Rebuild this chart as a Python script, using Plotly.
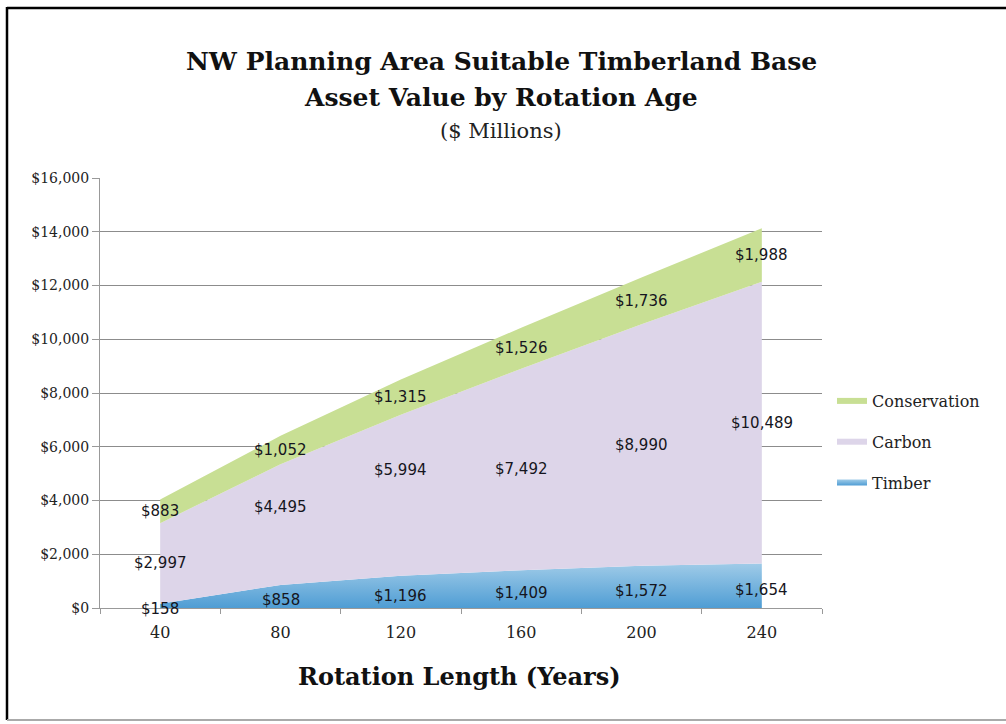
import plotly.graph_objects as go

rotation = ["40", "80", "120", "160", "200", "240"]
timber = [158, 858, 1196, 1409, 1572, 1654]
carbon = [2997, 4495, 5994, 7492, 8990, 10489]
conservation = [883, 1052, 1315, 1526, 1736, 1988]
y_ticks = [0, 2000, 4000, 6000, 8000, 10000, 12000, 14000, 16000]
y_tick_labels = ["$" + format(v, ",") for v in y_ticks]

# label vertical nudges (pixels), style only
carbon_shift = [0, 18, 25, 0, 0, 0]
timber_shift = [-3, -4, -4, -4, -4, -4]

L, R, T, B = 100, 822, 178, 608
W, H = 1006, 724


def px(x):
    return (x - L) / (R - L)


def py(y):
    return (B - y) / (B - T)


fig = go.Figure()
fig.add_trace(go.Scatter(x=rotation, y=timber, name="Timber", stackgroup="one",
                         mode="none", fillcolor="#6eb0de", legendrank=3, legendgroup="t",
                         fillgradient=dict(type="vertical",
                                           colorscale=[[0, "#4f9dd4"], [1, "#9fcbe8"]])))
fig.add_trace(go.Scatter(x=rotation, y=carbon, name="Carbon", stackgroup="one",
                         mode="none", fillcolor="#ddd5e9", legendrank=2, legendgroup="c"))
fig.add_trace(go.Scatter(x=rotation, y=conservation, name="Conservation", stackgroup="one",
                         mode="none", fillcolor="#c8df94", legendrank=1, legendgroup="k"))

label_font = dict(family="DejaVu Sans", size=15, color="#151520")
anns = []
for i, cat in enumerate(rotation):
    t = timber[i]
    c = carbon[i]
    k = conservation[i]
    anns.append(dict(x=i, y=t / 2, text="$" + format(t, ","), showarrow=False,
                     font=label_font, yshift=timber_shift[i]))
    anns.append(dict(x=i, y=t + c / 2, text="$" + format(c, ","), showarrow=False,
                     font=label_font, yshift=carbon_shift[i]))
    anns.append(dict(x=i, y=t + c + k / 2, text="$" + format(k, ","), showarrow=False,
                     font=label_font))

title_font = dict(family="DejaVu Serif", size=25, color="#111111")
common = dict(xref="paper", yref="paper", showarrow=False, xanchor="center", yanchor="middle")
anns.append(dict(x=px(501), y=py(62), text="<b>NW Planning Area Suitable Timberland Base</b>",
                 font=title_font, **common))
anns.append(dict(x=px(501), y=py(97), text="<b>Asset Value by Rotation Age</b>",
                 font=title_font, **common))
anns.append(dict(x=px(501), y=py(131), text="($ Millions)",
                 font=dict(family="DejaVu Serif", size=21, color="#222222"), **common))
anns.append(dict(x=px(459), y=py(676), text="<b>Rotation Length (Years)</b>",
                 font=dict(family="DejaVu Serif", size=24, color="#111111"), **common))

shapes = [
    dict(type="line", xref="paper", yref="paper", x0=px(7), x1=px(7), y0=py(7), y1=py(720),
         line=dict(color="black", width=2.5)),
    dict(type="line", xref="paper", yref="paper", x0=px(7), x1=px(1006), y0=py(8), y1=py(8),
         line=dict(color="black", width=2.5)),
    dict(type="line", xref="paper", yref="paper", x0=px(7), x1=px(1006), y0=py(720), y1=py(720),
         line=dict(color="#aaaaaa", width=2)),
]

fig.update_layout(
    width=W, height=H,
    margin=dict(l=L, r=W - R, t=T, b=H - B, pad=0, autoexpand=False),
    paper_bgcolor="white", plot_bgcolor="white",
    showlegend=True,
    legend=dict(x=px(832), y=py(384), xanchor="left", yanchor="top",
                traceorder="grouped", tracegroupgap=17,
                font=dict(family="DejaVu Serif", size=16, color="#222222"),
                bgcolor="rgba(0,0,0,0)", itemwidth=30),
    annotations=anns,
    shapes=shapes,
)
fig.update_xaxes(type="category", range=[-0.5, 5.5], tickson="boundaries",
                 ticks="outside", ticklen=5, tickcolor="#999999", ticklabelstandoff=10,
                 showline=True, linecolor="#999999", showgrid=False,
                 tickfont=dict(family="DejaVu Serif", size=16, color="#222222"))
fig.update_yaxes(range=[0, 16000], tickvals=y_ticks, ticktext=y_tick_labels,
                 ticks="outside", ticklen=7, tickcolor="#999999",
                 showline=True, linecolor="#999999", showgrid=True, gridcolor="#8c8c8c",
                 gridwidth=1, zeroline=False,
                 tickfont=dict(family="DejaVu Serif", size=14, color="#222222"))

fig.write_html("out.html", config={"displayModeBar": False},
               post_script="document.body.style.margin='0';document.body.style.overflow='hidden';")
